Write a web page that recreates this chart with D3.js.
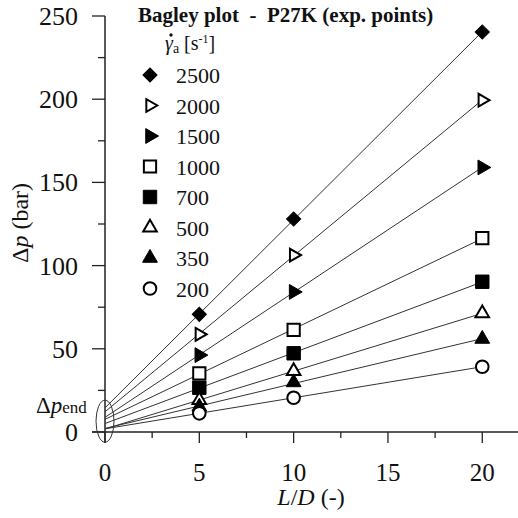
<!DOCTYPE html>
<html lang="en">
  <head>
    <meta charset="UTF-8" />
    <title>Bagley plot - P27K</title>
    <style>
      body { margin: 0; background: #fff; }
    </style>
  </head>
  <body>
    <svg width="518" height="518"></svg>
    <script src="https://cdn.jsdelivr.net/npm/d3@7"></script>
    <script>
      // L/D values of the capillaries
      const ldValues = [5, 10, 20];
      // apparent shear rates (legend order)
      const shearRates = ["2500", "2000", "1500", "1000", "700", "500", "350", "200"];
      // pressure drop (bar), one array per shear rate
      const dp2500 = [70.7, 128.0, 240.4];
      const dp2000 = [58.7, 106.3, 199.4];
      const dp1500 = [46.2, 84.2, 159.0];
      const dp1000 = [35.2, 61.3, 116.5];
      const dp700 = [26.6, 47.3, 90.3];
      const dp500 = [19.2, 36.6, 71.3];
      const dp350 = [15.2, 29.8, 55.9];
      const dp200 = [11.2, 20.6, 39.2];
      const yTicks = [0, 50, 100, 150, 200, 250];
      const xTicks = [0, 5, 10, 15, 20];

      const allSeries = [dp2500, dp2000, dp1500, dp1000, dp700, dp500, dp350, dp200];
      // marker style per series: shape, rotation, filled?
      const markers = [
        { type: d3.symbolSquare, size: 100, rot: 45, fill: true },
        { type: d3.symbolTriangle, size: 70, rot: 90, fill: false },
        { type: d3.symbolTriangle, size: 95, rot: 90, fill: true },
        { type: d3.symbolSquare, size: 150, rot: 0, fill: false },
        { type: d3.symbolSquare, size: 180, rot: 0, fill: true },
        { type: d3.symbolTriangle, size: 80, rot: 0, fill: false },
        { type: d3.symbolTriangle, size: 95, rot: 0, fill: true },
        { type: d3.symbolCircle, size: 125, rot: 0, fill: false },
      ];

      const FONT = "Liberation Serif";
      const svg = d3.select("svg");
      const x = d3.scaleLinear().domain([0, 22]).range([105, 520]);
      const y = d3.scaleLinear().domain([0, 250]).range([432, 16]);

      // every text goes through this so the serif face is always applied
      const addText = (sel, size) =>
        sel.append("text").attr("font-family", FONT).attr("font-size", size).attr("fill", "#111");

      // y axis with major ticks and minor ticks
      const yAxis = svg.append("g").attr("transform", "translate(105,0)");
      yAxis.append("line")
        .attr("y1", y(250)).attr("y2", 443)
        .attr("stroke", "#222").attr("stroke-width", 1.5);
      yAxis.selectAll(".maj").data(yTicks).enter().append("line")
        .attr("x1", -13).attr("x2", 0)
        .attr("y1", (d) => y(d)).attr("y2", (d) => y(d))
        .attr("stroke", "#222").attr("stroke-width", 1.3);
      yAxis.selectAll(".min").data(d3.range(25, 250, 50)).enter().append("line")
        .attr("x1", -7).attr("x2", 0)
        .attr("y1", (d) => y(d)).attr("y2", (d) => y(d))
        .attr("stroke", "#222").attr("stroke-width", 1.3);
      yTicks.forEach((t) => {
        addText(yAxis, 26).attr("x", -27).attr("y", y(t) + 9)
          .attr("text-anchor", "end").text(t);
      });

      // x axis
      const xAxis = svg.append("g").attr("transform", "translate(0,432)");
      xAxis.append("line")
        .attr("x1", 92).attr("x2", 518)
        .attr("stroke", "#222").attr("stroke-width", 1.5);
      xAxis.selectAll(".maj").data(xTicks).enter().append("line")
        .attr("x1", (d) => x(d)).attr("x2", (d) => x(d))
        .attr("y1", 0).attr("y2", 11)
        .attr("stroke", "#222").attr("stroke-width", 1.3);
      xAxis.selectAll(".min").data([2.5, 7.5, 12.5, 17.5]).enter().append("line")
        .attr("x1", (d) => x(d)).attr("x2", (d) => x(d))
        .attr("y1", 0).attr("y2", 6)
        .attr("stroke", "#222").attr("stroke-width", 1.3);
      xTicks.forEach((t) => {
        addText(xAxis, 25).attr("x", x(t)).attr("y", 49)
          .attr("text-anchor", "middle").text(t);
      });

      // axis titles
      const xTitle = addText(svg, 24).attr("x", 311).attr("y", 505).attr("text-anchor", "middle");
      xTitle.append("tspan").attr("font-style", "italic").text("L");
      xTitle.append("tspan").text("/");
      xTitle.append("tspan").attr("font-style", "italic").text("D");
      xTitle.append("tspan").text(" (-)");

      const yTitle = addText(svg, 24)
        .attr("transform", "translate(28,223) rotate(-90)")
        .attr("text-anchor", "middle");
      yTitle.append("tspan").text("Δ");
      yTitle.append("tspan").attr("font-style", "italic").text("p");
      yTitle.append("tspan").text(" (bar)");

      // least-squares lines through each series, drawn from L/D = 0 to 20
      const fits = allSeries.map((vals) => {
        const mx = d3.mean(ldValues), my = d3.mean(vals);
        const sxy = d3.sum(ldValues, (v, i) => (v - mx) * (vals[i] - my));
        const sxx = d3.sum(ldValues, (v) => (v - mx) * (v - mx));
        const slope = sxy / sxx;
        return { slope, icpt: my - slope * mx };
      });
      svg.append("g").selectAll("line").data(fits).enter().append("line")
        .attr("x1", x(0)).attr("y1", (d) => y(d.icpt))
        .attr("x2", x(20)).attr("y2", (d) => y(d.icpt + d.slope * 20))
        .attr("stroke", "#333").attr("stroke-width", 1);

      // ellipse around the intercepts (end pressure drop)
      svg.append("ellipse")
        .attr("cx", x(0)).attr("cy", y(6.5))
        .attr("rx", 9).attr("ry", 21)
        .attr("fill", "none").attr("stroke", "#333").attr("stroke-width", 1);
      const endLbl = addText(svg, 23).attr("x", 36).attr("y", 413);
      endLbl.append("tspan").text("Δ");
      endLbl.append("tspan").attr("font-style", "italic").text("p");
      endLbl.append("tspan").attr("font-size", 17).text("end");

      const symbolPath = (m) => d3.symbol().type(m.type).size(m.size)();

      // data markers
      allSeries.forEach((vals, si) => {
        const m = markers[si];
        svg.append("g").selectAll("path").data(vals).enter().append("path")
          .attr("d", symbolPath(m))
          .attr("transform", (d, i) => `translate(${x(ldValues[i])},${y(d)}) rotate(${m.rot})`)
          .attr("fill", m.fill ? "#000" : "#fff")
          .attr("stroke", "#000").attr("stroke-width", m.fill ? 1 : 2);
      });

      // legend
      addText(svg, 21).attr("x", 138).attr("y", 22)
        .attr("font-weight", "bold").style("white-space", "pre")
        .text("Bagley plot  -  P27K (exp. points)");
      const legTitle = addText(svg, 20).attr("x", 165).attr("y", 50);
      legTitle.append("tspan").attr("font-style", "italic").text("γ");
      legTitle.append("tspan").attr("dy", 3).attr("font-size", 14).text("a");
      legTitle.append("tspan").attr("dy", -3).text(" [s");
      legTitle.append("tspan").attr("dy", -7).attr("font-size", 12).text("-1");
      legTitle.append("tspan").attr("dy", 7).text("]");
      // dot over gamma
      svg.append("circle").attr("cx", 171).attr("cy", 35).attr("r", 1.7).attr("fill", "#111");

      const leg = svg.append("g").selectAll("g").data(shearRates).enter().append("g")
        .attr("transform", (d, i) => `translate(150,${75 + i * 30.5})`);
      leg.append("path")
        .attr("d", (d, i) => symbolPath(markers[i]))
        .attr("transform", (d, i) => `rotate(${markers[i].rot})`)
        .attr("fill", (d, i) => (markers[i].fill ? "#000" : "#fff"))
        .attr("stroke", "#000").attr("stroke-width", (d, i) => (markers[i].fill ? 1 : 2));
      leg.each(function (d) {
        addText(d3.select(this), 22).attr("x", 26).attr("y", 8).text(d);
      });
    </script>
  </body>
</html>
